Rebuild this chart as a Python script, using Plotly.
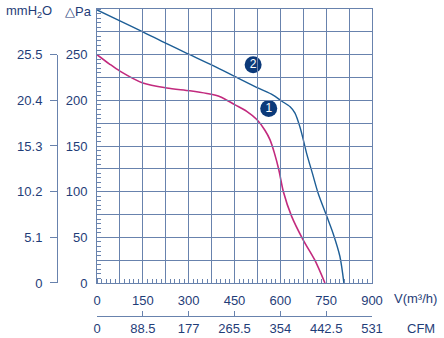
import plotly.graph_objects as go

# ---- data ----
curve1_x = [0, 40, 75, 150, 228, 304, 360, 403, 452, 490, 523, 550, 566, 580, 595, 610, 637, 675, 713, 746]
curve1_y = [250, 240, 232, 219, 213.5, 210.5, 207.5, 204, 195, 188, 179, 167, 157, 143, 124, 100, 73, 47, 25, 0]
curve2_x = [0, 75, 150, 228, 304, 380, 452, 530, 575, 605, 632, 648, 664, 675, 686, 705, 724, 752, 773, 795, 808]
curve2_y = [299, 287, 275, 262, 250, 238, 226, 213, 206, 199, 193, 186, 171, 157, 142, 120, 98, 73, 54, 29, 0]

badge_labels = ["1", "2"]
badge_x = [562, 511]
badge_y = [191, 239]

x_tickvals = list(range(0, 901, 75))
x_ticktext = ["0", " ", "150", " ", "300", " ", "450", " ", "600", " ", "750", " ", "900"]
y_tickvals = list(range(0, 301, 25))
y_ticktext = ["0", " ", "50", " ", "100", " ", "150", " ", "200", " ", "250", " ", " "]
mm_tickvals = [0, 50, 100, 150, 200, 250]
mm_ticktext = ["0", "5.1", "10.2", "15.3", "20.4", "25.5"]
cfm_tickvals = [0, 88.5, 177, 265.5, 354, 442.5, 531]
cfm_ticktext = ["0", "88.5", "177", "265.5", "354", "442.5", "531"]

NAVY = "#1f3d78"
GRID = "#6882ad"
MAG = "#c22a7e"
BLUE = "#1d5e96"
FONT = "Liberation Sans"

fig = go.Figure()
# dummy traces for secondary axes (drawn first so the curves sit on top)
fig.add_trace(go.Scatter(x=[None], y=[None], xaxis="x", yaxis="y2", showlegend=False))
fig.add_trace(go.Scatter(x=[None], y=[None], xaxis="x3", yaxis="y", showlegend=False))
fig.add_trace(go.Scatter(x=curve1_x, y=curve1_y, mode="lines",
                         line=dict(color=MAG, width=1.6, shape="spline", smoothing=0.8),
                         hoverinfo="skip", showlegend=False))
fig.add_trace(go.Scatter(x=curve2_x, y=curve2_y, mode="lines",
                         line=dict(color=BLUE, width=1.4, shape="spline", smoothing=0.8),
                         hoverinfo="skip", showlegend=False))
fig.add_trace(go.Scatter(x=badge_x, y=badge_y, mode="markers+text", text=badge_labels,
                         textposition="middle center",
                         textfont=dict(color="white", size=12, family=FONT),
                         marker=dict(size=17, color="#0c3a7a", line=dict(width=0)),
                         hoverinfo="skip", showlegend=False))

W, H = 444, 338
ml, mr, mt, mb = 10, 72, 9, 2
pw, ph = W - ml - mr, H - mt - mb
x0 = (97 - ml) / pw
y0 = (H - mb - 283) / ph
main_h = ph * (1 - y0)

def px_x(p):
    return (p - ml) / pw

def px_y(p):
    return (H - mb - p) / ph

tickfont = dict(family=FONT, size=13, color=NAVY)

fig.update_layout(
    width=W, height=H, margin=dict(l=ml, r=mr, t=mt, b=mb, autoexpand=False),
    paper_bgcolor="white", plot_bgcolor="rgba(0,0,0,0)",
    xaxis=dict(domain=[x0, 1], range=[0, 900], tickmode="array", automargin=False,
               tickvals=x_tickvals, ticktext=x_ticktext, ticks="",
               showgrid=True, gridcolor=GRID, gridwidth=1, zeroline=False,
               showline=True, linecolor=GRID, linewidth=1, mirror=True,
               tickfont=tickfont, ticklabelstandoff=5,
               minor=dict(dtick=15, tick0=0, ticks="inside", ticklen=4,
                          tickcolor=GRID, showgrid=False)),
    yaxis=dict(domain=[y0, 1], range=[0, 300], tickmode="array", automargin=False,
               tickvals=y_tickvals, ticktext=y_ticktext, ticks="",
               showgrid=True, gridcolor=GRID, gridwidth=1, zeroline=False,
               showline=True, linecolor=GRID, linewidth=1, mirror=True,
               tickfont=tickfont, ticklabelstandoff=6,
               minor=dict(dtick=5, tick0=0, ticks="inside", ticklen=4,
                          tickcolor=GRID, showgrid=False)),
    yaxis2=dict(anchor="free", position=px_x(57), side="left", automargin=False,
                domain=[y0, y0 + main_h * 250 / 300 / ph], range=[0, 250],
                tickmode="array", tickvals=mm_tickvals, ticktext=mm_ticktext,
                ticks="outside", ticklen=7, tickcolor=GRID,
                showline=True, linecolor=GRID, linewidth=1,
                showgrid=False, zeroline=False, tickfont=tickfont,
                ticklabelstandoff=5),
    xaxis3=dict(anchor="free", position=px_y(316), side="bottom", automargin=False,
                domain=[x0, 1], range=[0, 531],
                tickmode="array", tickvals=cfm_tickvals, ticktext=cfm_ticktext,
                ticks="inside", ticklen=5, tickcolor=GRID,
                showline=True, linecolor=GRID, linewidth=1,
                showgrid=False, zeroline=False, tickfont=tickfont,
                ticklabelstandoff=0),
    annotations=[
        dict(text="mmH<sub>2</sub>O", x=px_x(29), y=px_y(11), xref="paper", yref="paper",
             showarrow=False, font=tickfont, xanchor="center", yanchor="middle"),
        dict(text="△Pa", x=px_x(78), y=px_y(11), xref="paper", yref="paper",
             showarrow=False, font=tickfont, xanchor="center", yanchor="middle"),
        dict(text="V(m³/h)", x=px_x(415), y=px_y(298), xref="paper", yref="paper",
             showarrow=False, font=tickfont, xanchor="center", yanchor="middle"),
        dict(text="CFM", x=px_x(421), y=px_y(328), xref="paper", yref="paper",
             showarrow=False, font=tickfont, xanchor="center", yanchor="middle"),
    ],
)

fig.write_html("out.html")
